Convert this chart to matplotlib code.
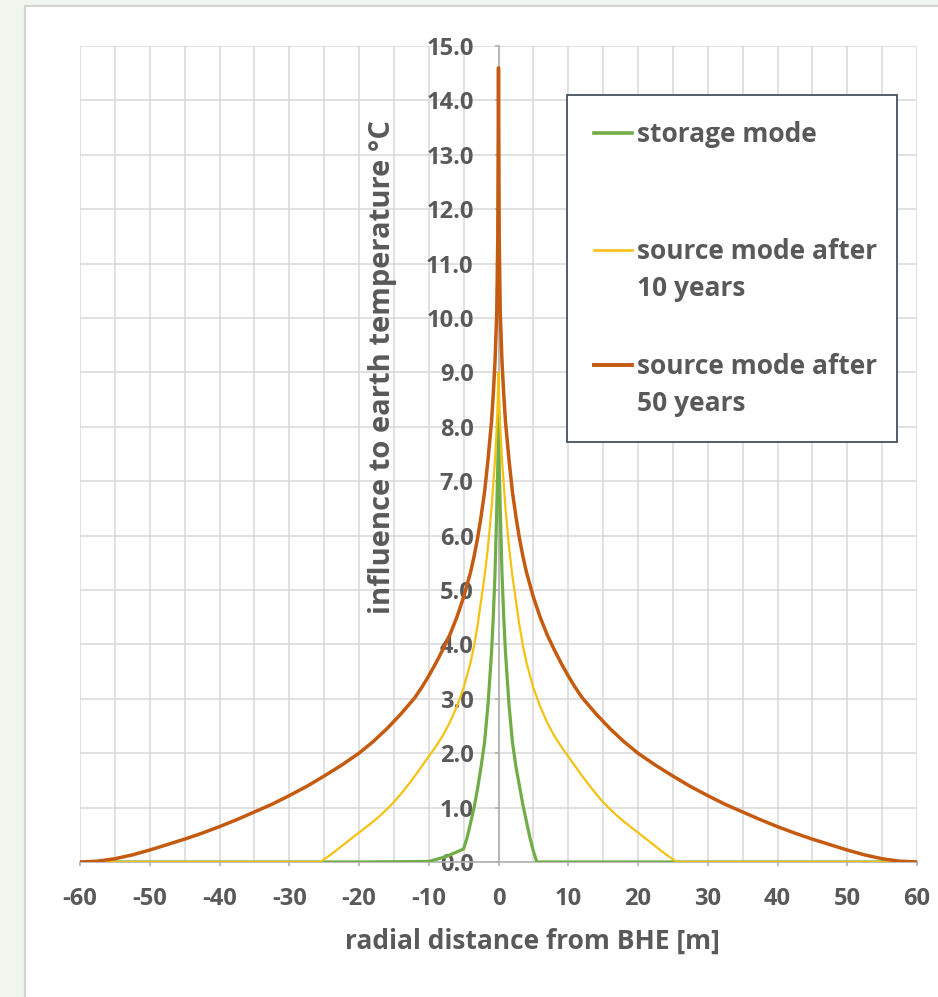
import matplotlib
matplotlib.use("Agg")
import matplotlib.pyplot as plt
from matplotlib.patches import Rectangle
from matplotlib.lines import Line2D
from matplotlib.ticker import MultipleLocator, FormatStrFormatter

plt.rcParams['font.family'] = ['Open Sans', 'DejaVu Sans']
plt.rcParams['font.weight'] = 'bold'
plt.rcParams['axes.unicode_minus'] = False

# storage mode (BHE used as seasonal storage)
x_storage = [-60, -50, -40, -30, -20, -10, -7.5, -5, -4.5, -4, -3.5, -3, -2.5, -2, -1.5, -1, -0.75, -0.5, -0.25, -0.1, 0,
             0.1, 0.25, 0.5, 0.75, 1, 1.5, 2, 2.5, 3, 3.5, 4, 4.5, 5, 5.5, 10, 20, 30, 40, 50, 60]
t_storage = [0, 0, 0, 0, 0, 0.01, 0.1, 0.24, 0.45, 0.72, 1.0, 1.35, 1.75, 2.2, 2.9, 3.85, 4.5, 5.3, 6.5, 7.3, 8.2,
             7.3, 6.5, 5.3, 4.5, 3.85, 2.9, 2.2, 1.75, 1.4, 1.05, 0.75, 0.45, 0.2, 0.0, 0, 0, 0, 0, 0, 0]

# source mode after 10 years
x_10y = [-60, -50, -40, -30, -25.5, -25, -24, -23, -22, -21, -20, -19, -18, -17, -16, -15, -14, -13, -12, -11,
         -10, -9, -8, -7, -6, -5, -4, -3.5, -3, -2.5, -2, -1.5, -1, -0.75, -0.5, -0.25, -0.1, 0,
         0.1, 0.25, 0.5, 0.75, 1, 1.5, 2, 2.5, 3, 3.5, 4, 5, 6, 7, 8, 9, 10,
         11, 12, 13, 14, 15, 16, 17, 18, 19, 20, 21, 22, 23, 24, 25, 25.5, 30, 40, 50, 60]
t_10y = [0, 0, 0, 0, 0, 0.05, 0.14, 0.24, 0.34, 0.44, 0.54, 0.64, 0.74, 0.85, 0.97, 1.1, 1.25, 1.41, 1.58, 1.76,
         1.94, 2.12, 2.32, 2.56, 2.85, 3.2, 3.67, 3.98, 4.35, 4.8, 5.25, 5.8, 6.5, 6.95, 7.4, 8.0, 8.5, 9.0,
         8.5, 8.0, 7.4, 6.95, 6.5, 5.8, 5.25, 4.8, 4.35, 3.98, 3.67, 3.2, 2.85, 2.56, 2.32, 2.12, 1.94,
         1.76, 1.58, 1.41, 1.25, 1.1, 0.97, 0.85, 0.74, 0.64, 0.54, 0.44, 0.34, 0.24, 0.14, 0.05, 0, 0, 0, 0, 0]

# source mode after 50 years
x_50y = [-60, -57.5, -55, -52.5, -50, -47.5, -45, -42.5, -40, -37.5, -35, -32.5, -30, -27.5, -25, -22.5, -20,
         -18, -16, -14, -12, -11, -10, -9, -8, -7, -6, -5, -4, -3.5, -3, -2.5, -2, -1.5, -1, -0.75, -0.5, -0.25, -0.1, 0,
         0.1, 0.25, 0.5, 0.75, 1, 1.5, 2, 2.5, 3, 3.5, 4, 5, 6, 7, 8, 9, 10, 11, 12, 14, 16, 18,
         20, 22.5, 25, 27.5, 30, 32.5, 35, 37.5, 40, 42.5, 45, 47.5, 50, 52.5, 55, 57.5, 60]
t_50y = [0.0, 0.015, 0.06, 0.13, 0.22, 0.32, 0.42, 0.53, 0.65, 0.78, 0.92, 1.06, 1.22, 1.39, 1.58, 1.78, 2.0,
         2.21, 2.45, 2.72, 3.02, 3.21, 3.42, 3.65, 3.9, 4.17, 4.49, 4.87, 5.33, 5.62, 5.95, 6.35, 6.8, 7.4, 8.1, 8.6, 9.2, 10.1, 11.5, 14.6,
         11.5, 10.1, 9.2, 8.6, 8.1, 7.4, 6.8, 6.35, 5.95, 5.62, 5.33, 4.87, 4.49, 4.17, 3.9, 3.65, 3.42, 3.21, 3.02, 2.72, 2.45, 2.21,
         2.0, 1.78, 1.58, 1.39, 1.22, 1.06, 0.92, 0.78, 0.65, 0.53, 0.42, 0.32, 0.22, 0.13, 0.06, 0.015, 0.0]

series = [
    ("storage mode", x_storage, t_storage, '#70ad47', 2.3),
    ("source mode after\n10 years", x_10y, t_10y, '#f5c211', 1.6),
    ("source mode after\n50 years", x_50y, t_50y, '#c55a11', 2.5),
]

W, H = 938, 997
text_color = '#595959'

def fpos(px, py):
    return px / W, 1 - py / H

fig = plt.figure(figsize=(W / 100, H / 100), dpi=100, facecolor='#f0f5ee')

# white chart panel
fig.add_artist(Rectangle(fpos(25, 1010), 1.0, (1010 - 6) / H, transform=fig.transFigure,
                         facecolor='white', edgecolor='#d4d4d4', linewidth=1.5, zorder=0))

x0, x1 = fpos(80, 0)[0], fpos(917, 0)[0]
y0, y1 = fpos(0, 862)[1], fpos(0, 46)[1]
ax = fig.add_axes([x0, y0, x1 - x0, y1 - y0])
ax.set_facecolor('none')

for name, xs, ys, col, lw in series:
    ax.plot(xs, ys, color=col, linewidth=lw, label=name, solid_joinstyle='round')

ax.set_xlim(-60, 60)
ax.set_ylim(0, 15)
ax.xaxis.set_major_locator(MultipleLocator(10))
ax.xaxis.set_minor_locator(MultipleLocator(5))
ax.yaxis.set_major_locator(MultipleLocator(1))
ax.yaxis.set_major_formatter(FormatStrFormatter('%.1f'))
ax.set_axisbelow(True)
ax.grid(True, which='both', color='#d9d9d9', linewidth=1.1)

for s in ['top', 'right']:
    ax.spines[s].set_visible(False)
ax.spines['left'].set_position(('data', 0))
for s in ['left', 'bottom']:
    ax.spines[s].set_color('#b0b0b0')
    ax.spines[s].set_linewidth(1.2)
    ax.spines[s].set_zorder(1)

ax.tick_params(axis='both', which='major', labelsize=17, labelcolor=text_color,
               color='#b0b0b0', length=3, width=1.2, direction='out')
ax.tick_params(axis='both', which='minor', length=0)
ax.tick_params(axis='y', pad=15)
ax.tick_params(axis='x', pad=15)

ax.set_xlabel('radial distance from BHE [m]', fontsize=19, fontweight='bold',
              color=text_color, va='center')
ax.xaxis.set_label_coords(0.540, -0.097)
ax.set_ylabel('influence to earth temperature °C', fontsize=21, fontweight='bold',
              color=text_color, va='center', ha='center', rotation_mode='default')
ax.yaxis.set_label_coords(0.362, 0.607)

# legend box drawn like the original chart
lx0, ly0 = fpos(567, 442)
lx1, ly1 = fpos(897, 95)
fig.add_artist(Rectangle((lx0, ly0), lx1 - lx0, ly1 - ly0, transform=fig.transFigure,
                         facecolor='white', edgecolor='#44505e', linewidth=1.3, zorder=5))
entry_rows = [(133, 134), (250, 270), (365, 385)]
for (name, xs, ys, col, lw), (yl, yt) in zip(series, entry_rows):
    hx0, hy = fpos(594, yl)
    hx1, _ = fpos(632, yl)
    fig.add_artist(Line2D([hx0, hx1], [hy, hy], transform=fig.transFigure,
                          color=col, linewidth=lw + 0.3, zorder=6))
    tx, ty = fpos(637, yt)
    fig.text(tx, ty, name, fontsize=19, color=text_color, ha='left', va='center',
             linespacing=1.45, zorder=6)

fig.savefig('out.png', dpi=100, facecolor=fig.get_facecolor())
